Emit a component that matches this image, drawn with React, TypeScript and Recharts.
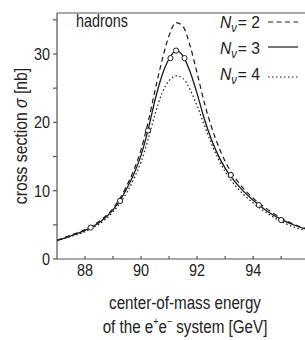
import React from 'react';
import { ComposedChart, Line, Scatter, XAxis, YAxis, ReferenceLine, Customized } from 'recharts';

const energy = [87.0, 87.5, 88.0, 88.5, 89.0, 89.25, 89.5, 89.75, 90.0, 90.25, 90.5, 90.75, 91.0, 91.25, 91.5, 91.75, 92.0, 92.25, 92.5, 92.75, 93.0, 93.5, 94.0, 94.5, 95.0, 95.5, 95.85];
const sigmaN2 = [2.75, 3.5, 4.3, 5.5, 7.4, 8.9, 10.8, 13.1, 16.0, 20.0, 24.7, 29.1, 32.7, 34.6, 34.0, 31.2, 27.2, 23.0, 19.5, 16.6, 14.3, 11.1, 8.9, 7.3, 6.0, 5.0, 4.5];
const sigmaN3 = [2.7, 3.4, 4.2, 5.3, 7.2, 8.6, 10.4, 12.5, 15.2, 18.9, 23.3, 26.9, 29.3, 30.5, 29.7, 27.4, 24.2, 20.6, 17.6, 15.2, 13.3, 10.6, 8.6, 7.0, 5.8, 4.9, 4.4];
const sigmaN4 = [2.65, 3.3, 4.0, 5.1, 6.9, 8.2, 9.8, 11.8, 14.2, 17.5, 21.2, 24.3, 26.1, 26.8, 26.4, 24.8, 22.4, 19.7, 17.0, 14.7, 12.8, 10.1, 8.2, 6.7, 5.5, 4.6, 4.2];
const pointEnergy = [88.2, 89.25, 90.25, 91.05, 91.25, 91.55, 93.2, 94.2, 95.0];
const pointSigma = [4.6, 8.5, 18.8, 29.4, 30.5, 29.4, 12.3, 7.9, 5.7];
const xTicks = [88, 89, 90, 91, 92, 93, 94, 95];
const yTicks = [0, 5, 10, 15, 20, 25, 30, 35];
const legendRows = [
  { n: '2', dash: '5 3.5' },
  { n: '3', dash: undefined },
  { n: '4', dash: '1.5 2.5' },
];

const curveData = energy.map((e, i) => ({ e, n2: sigmaN2[i], n3: sigmaN3[i], n4: sigmaN4[i] }));
const pointData = pointEnergy.map((e, i) => ({ e, sigma: pointSigma[i] }));

const FONT = '"Liberation Sans", Arial, sans-serif';
const AXIS = '#555';
const INK = '#1a1a1a';
const TXT = '#222';

const XTick = (props: any) => {
  const { x, y, payload } = props;
  const v = payload.value;
  return (
    <g>
      <line x1={x} x2={x} y1={y} y2={y - 3} stroke={AXIS} strokeWidth={1.2} />
      {v % 2 === 0 && (
        <text transform={`translate(${x},${y + 17}) scale(0.85,1)`} textAnchor="middle" fontSize={17} fill={TXT} fontFamily={FONT}>{v}</text>
      )}
    </g>
  );
};

const YTick = (props: any) => {
  const { x, y, payload } = props;
  const v = payload.value;
  return (
    <g>
      <line x1={x - 4} x2={x} y1={y} y2={y} stroke={AXIS} strokeWidth={1.2} />
      {v % 10 === 0 && (
        <text transform={`translate(${x - 7},${y + 6}) scale(0.85,1)`} textAnchor="end" fontSize={17} fill={TXT} fontFamily={FONT}>{v}</text>
      )}
    </g>
  );
};

const Decor = () => (
  <g fontFamily={FONT} fill={TXT}>
    <text transform="translate(76,27) scale(0.8,1)" fontSize={18}>hadrons</text>
    {legendRows.map((r, i) => {
      const base = [28, 54, 80][i];
      const ly = [22, 47, 77][i];
      return (
        <g key={r.n}>
          <text transform={`translate(220,${base}) scale(0.92,1)`} fontSize={17}>
            <tspan fontStyle="italic">N</tspan>
            <tspan fontStyle="italic" fontSize={12} dy={4}>ν</tspan>
            <tspan dy={-4} dx={1}>= {r.n}</tspan>
          </text>
          <line x1={268} x2={298} y1={ly} y2={ly} stroke={INK} strokeWidth={1.2} strokeDasharray={r.dash} />
        </g>
      );
    })}
    <text transform="translate(27,136) rotate(-90) scale(0.83,1)" textAnchor="middle" fontSize={19}>
      cross section <tspan fontStyle="italic">σ</tspan> [nb]
    </text>
    <text transform="translate(185,309) scale(0.8,1)" textAnchor="middle" fontSize={19}>center-of-mass energy</text>
    <text transform="translate(185,333) scale(0.8,1)" textAnchor="middle" fontSize={19}>
      of the e<tspan fontSize={11} dy={-8}>+</tspan><tspan dy={8}>e</tspan><tspan fontSize={11} dy={-8}>−</tspan><tspan dy={8}> system [GeV]</tspan>
    </text>
  </g>
);

const Circle = (props: any) => (
  <circle cx={props.cx} cy={props.cy} r={2.6} fill="#fff" stroke={INK} strokeWidth={1} />
);

export default function App() {
  return (
    <div style={{ position: 'absolute', left: 0, top: 0, width: 305, height: 340, background: '#fff' }}>
      <ComposedChart width={305} height={340} data={curveData} margin={{ top: 13, right: 0, bottom: 0, left: 0 }}>
        <XAxis
          dataKey="e"
          type="number"
          domain={[87, 95.85]}
          allowDataOverflow
          ticks={xTicks}
          interval={0}
          height={81}
          tickSize={0}
          tickMargin={0}
          tickLine={false}
          tick={<XTick />}
          axisLine={{ stroke: AXIS, strokeWidth: 1.2 }}
        />
        <YAxis
          type="number"
          domain={[0, 36]}
          allowDataOverflow
          ticks={yTicks}
          interval={0}
          width={57}
          tickSize={0}
          tickMargin={0}
          tickLine={false}
          tick={<YTick />}
          axisLine={{ stroke: AXIS, strokeWidth: 1.2 }}
        />
        <ReferenceLine y={36} stroke={AXIS} strokeWidth={1.2} />
        <Line dataKey="n2" type="monotone" stroke={INK} strokeWidth={1.2} strokeDasharray="5 3.5" dot={false} isAnimationActive={false} />
        <Line dataKey="n4" type="monotone" stroke={INK} strokeWidth={1.2} strokeDasharray="1.5 2.5" dot={false} isAnimationActive={false} />
        <Line dataKey="n3" type="monotone" stroke={INK} strokeWidth={1.3} dot={false} isAnimationActive={false} />
        <Scatter data={pointData} dataKey="sigma" shape={<Circle />} isAnimationActive={false} />
        <Customized component={<Decor />} />
      </ComposedChart>
    </div>
  );
}
